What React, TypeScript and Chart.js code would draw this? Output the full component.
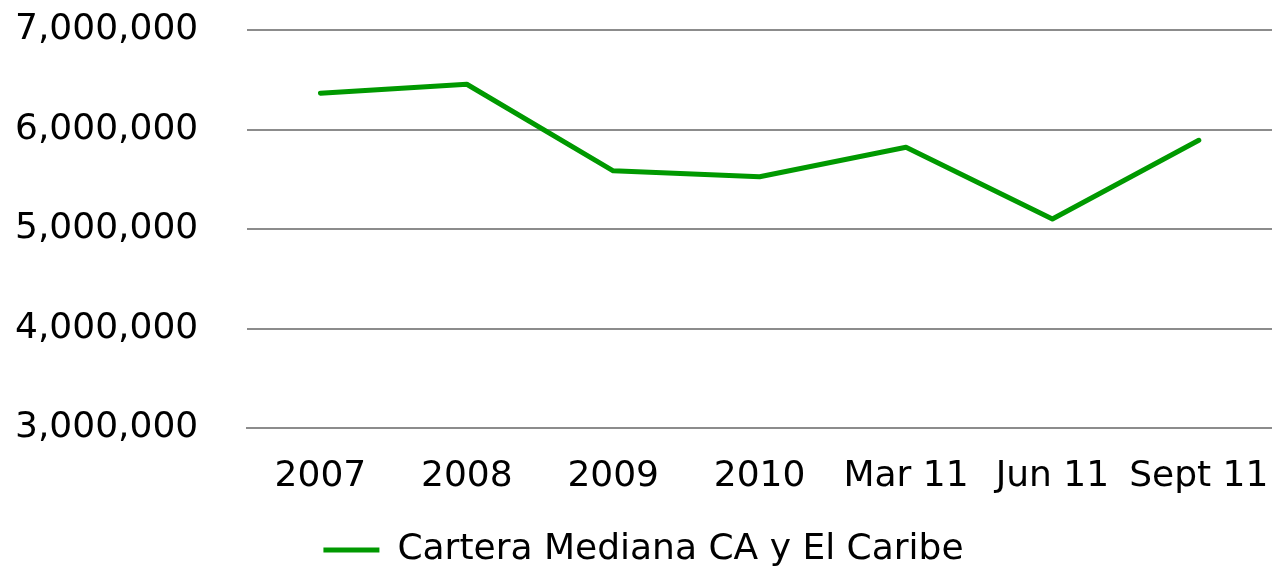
import React, { useEffect, useRef } from "react";
import { Chart, registerables } from "chart.js";

Chart.register(...registerables);

const categories = ["2007", "2008", "2009", "2010", "Mar 11", "Jun 11", "Sept 11"];
const seriesName = "Cartera Mediana CA y El Caribe";
const seriesValues = [6365000, 6455000, 5585000, 5525000, 5822000, 5100000, 5892000];
const yMin = 3000000;
const yMax = 7000000;
const yStep = 1000000;

const FONT = "'DejaVu Sans', sans-serif";
const Y_PAD = 49;

export default function App() {
  const ref = useRef<HTMLCanvasElement | null>(null);
  useEffect(() => {
    if (!ref.current) return;
    const chart = new Chart(ref.current, {
      type: "line",
      data: {
        labels: categories,
        datasets: [
          {
            label: seriesName,
            data: seriesValues,
            borderColor: "#009900",
            backgroundColor: "#009900",
            borderWidth: 5,
            pointRadius: 0,
            tension: 0,
            borderCapStyle: "round",
            borderJoinStyle: "round",
          },
        ],
      },
      options: {
        animation: false,
        responsive: false,
        maintainAspectRatio: false,
        layout: { padding: { left: 15, right: 0, top: 30, bottom: -12 } },
        plugins: {
          tooltip: { enabled: false },
          legend: {
            position: "bottom",
            labels: {
              boxWidth: 56,
              boxHeight: 5,
              padding: 0,
              color: "#000",
              font: { family: FONT, size: 36, lineHeight: 1.0 },
              generateLabels: (c: any) =>
                (Chart.defaults.plugins.legend.labels as any)
                  .generateLabels(c)
                  .map((l: any) => ({ ...l, lineWidth: 0 })),
            },
          },
        },
        scales: {
          x: {
            offset: true,
            grid: { display: false, drawTicks: false },
            border: { display: true, color: "#8c8c8c", width: 2 },
            ticks: {
              color: "#000",
              padding: 27,
              maxRotation: 0,
              autoSkip: false,
              font: { family: FONT, size: 36 },
            },
            afterFit: (s: any) => {
              s.paddingLeft = 0;
              s.paddingRight = 0;
              s.height = 104;
            },
          },
          y: {
            min: yMin,
            max: yMax,
            grid: { color: "#8c8c8c", lineWidth: 2, drawTicks: false },
            border: { display: false },
            ticks: {
              stepSize: yStep,
              color: "#000",
              padding: Y_PAD,
              font: { family: FONT, size: 36 },
              callback: (v: any) => Number(v).toLocaleString("en-US"),
            },
            afterFit: (s: any) => {
              s.paddingTop = 0;
              s.paddingBottom = 0;
              s.width = s.width - Y_PAD;
            },
          },
        },
      },
    });
    return () => chart.destroy();
  }, []);
  return (
    <div style={{ position: "fixed", left: 0, top: 0, width: 1272, height: 566, background: "#fff" }}>
      <canvas ref={ref} width={1272} height={566} style={{ width: 1272, height: 566 }} />
    </div>
  );
}
